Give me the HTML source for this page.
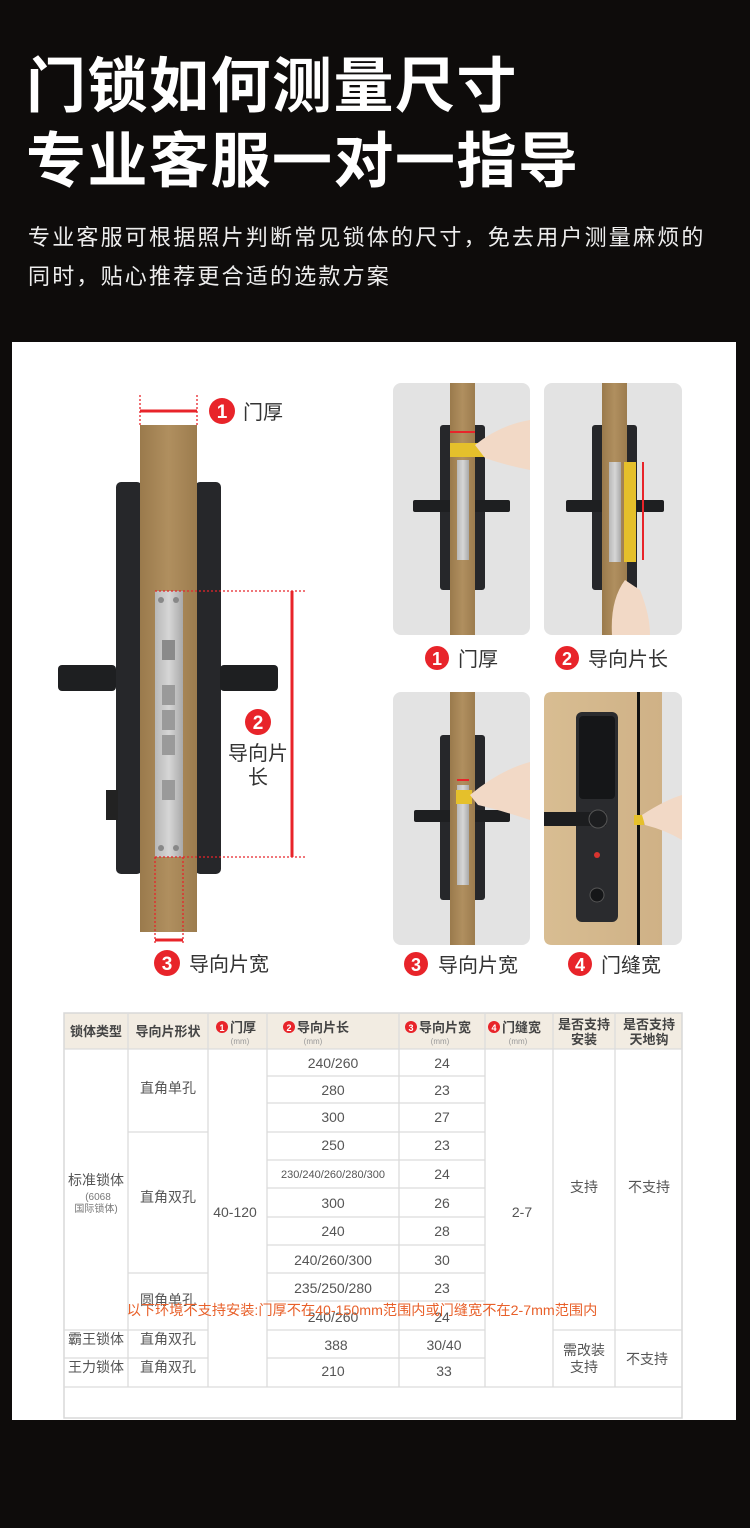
<!DOCTYPE html>
<html><head><meta charset="utf-8">
<style>
html,body{margin:0;padding:0;background:#0e0c0b;}
svg{display:block}
text{font-family:"Liberation Sans","Noto Sans CJK SC",sans-serif;}
</style></head>
<body>
<svg width="750" height="1528" viewBox="0 0 750 1528" xmlns="http://www.w3.org/2000/svg">
<defs>
<linearGradient id="wood" x1="0" x2="1" y1="0" y2="0">
<stop offset="0" stop-color="#9a7a4c"/><stop offset="0.5" stop-color="#b08f5f"/><stop offset="1" stop-color="#9c7c4e"/>
</linearGradient>
<linearGradient id="steel" x1="0" x2="1"><stop offset="0" stop-color="#b8b8b8"/><stop offset="0.5" stop-color="#d6d6d6"/><stop offset="1" stop-color="#a9a9a9"/></linearGradient>
<linearGradient id="lwood" x1="0" x2="1"><stop offset="0" stop-color="#d8bd92"/><stop offset="1" stop-color="#cfb186"/></linearGradient>
</defs>
<rect width="750" height="1528" fill="#0e0c0b"/>
<!-- Title -->
<text x="26" y="107" fill="#fff" font-size="60" font-weight="bold" letter-spacing="1.5">门锁如何测量尺寸</text>
<text x="26" y="182" fill="#fff" font-size="60" font-weight="bold" letter-spacing="1.5">专业客服一对一指导</text>
<text x="28" y="245" fill="#eee" font-size="22" letter-spacing="2.2">专业客服可根据照片判断常见锁体的尺寸，免去用户测量麻烦的</text>
<text x="28" y="284" fill="#eee" font-size="22" letter-spacing="2.2">同时，贴心推荐更合适的选款方案</text>

<!-- White panel -->
<rect x="12" y="342" width="724" height="1078" fill="#fff"/>

<!-- Main lock -->
<rect x="116" y="482" width="26" height="392" rx="5" fill="#26272a"/>
<rect x="195" y="482" width="26" height="392" rx="5" fill="#26272a"/>
<rect x="106" y="790" width="12" height="30" fill="#222"/>
<rect x="58" y="665" width="58" height="26" rx="4" fill="#1e1f21"/>
<rect x="220" y="665" width="58" height="26" rx="4" fill="#1e1f21"/>
<rect x="140" y="425" width="57" height="507" fill="url(#wood)"/>
<rect x="155" y="591" width="28" height="266" fill="url(#steel)"/>
<rect x="162" y="640" width="13" height="20" fill="#8a8a8a"/>
<rect x="162" y="685" width="13" height="20" fill="#9a9a9a"/>
<rect x="162" y="710" width="13" height="20" fill="#9a9a9a"/>
<rect x="162" y="735" width="13" height="20" fill="#9a9a9a"/>
<rect x="162" y="780" width="13" height="20" fill="#9a9a9a"/>
<circle cx="161" cy="600" r="3" fill="#888"/><circle cx="176" cy="600" r="3" fill="#888"/>
<circle cx="161" cy="848" r="3" fill="#888"/><circle cx="176" cy="848" r="3" fill="#888"/>
<g stroke="#e8242a" stroke-width="1.3" stroke-dasharray="2,2" fill="none">
<line x1="140" y1="395" x2="140" y2="425"/><line x1="197" y1="395" x2="197" y2="425"/>
<line x1="155" y1="591" x2="307" y2="591"/><line x1="155" y1="857" x2="307" y2="857"/>
<line x1="155" y1="857" x2="155" y2="945"/><line x1="183" y1="857" x2="183" y2="945"/>
</g>
<g stroke="#e8242a" stroke-width="3">
<line x1="140" y1="411" x2="197" y2="411"/>
<line x1="292" y1="591" x2="292" y2="857"/>
<line x1="155" y1="940" x2="183" y2="940"/>
</g>
<circle cx="222" cy="411" r="13" fill="#e8242a"/><text x="222" y="418" fill="#fff" font-size="19" font-weight="bold" text-anchor="middle">1</text>
<text x="243" y="419" fill="#333" font-size="20">门厚</text>
<circle cx="258" cy="722" r="13" fill="#e8242a"/><text x="258" y="729" fill="#fff" font-size="19" font-weight="bold" text-anchor="middle">2</text>
<text x="258" y="760" fill="#333" font-size="20" text-anchor="middle">导向片</text>
<text x="258" y="784" fill="#333" font-size="20" text-anchor="middle">长</text>
<circle cx="167" cy="963" r="13" fill="#e8242a"/><text x="167" y="970" fill="#fff" font-size="19" font-weight="bold" text-anchor="middle">3</text>
<text x="189" y="971" fill="#333" font-size="20">导向片宽</text>

<!-- Thumb 1 -->
<rect x="393" y="383" width="137" height="252" rx="8" fill="#e3e3e3"/>
<rect x="440" y="425" width="45" height="165" rx="3" fill="#26272a"/>
<rect x="413" y="500" width="97" height="12" rx="2" fill="#1e1f21"/>
<rect x="450" y="383" width="25" height="252" fill="url(#wood)"/>
<rect x="457" y="460" width="12" height="100" fill="url(#steel)"/>
<rect x="450" y="443" width="35" height="14" fill="#e5c02b"/>
<line x1="450" y1="432" x2="475" y2="432" stroke="#e8242a" stroke-width="2"/>
<path d="M475 445 Q500 425 530 420 L530 470 Q505 465 485 458 Z" fill="#f2d9c6"/>
<circle cx="437" cy="658" r="12" fill="#e8242a"/><text x="437" y="665" fill="#fff" font-size="18" font-weight="bold" text-anchor="middle">1</text>
<text x="458" y="666" fill="#333" font-size="20">门厚</text>

<!-- Thumb 2 -->
<rect x="544" y="383" width="138" height="252" rx="8" fill="#e3e3e3"/>
<rect x="592" y="425" width="45" height="165" rx="3" fill="#26272a"/>
<rect x="566" y="500" width="98" height="12" rx="2" fill="#1e1f21"/>
<rect x="602" y="383" width="25" height="252" fill="url(#wood)"/>
<rect x="609" y="462" width="12" height="100" fill="url(#steel)"/>
<rect x="624" y="462" width="12" height="100" fill="#e5c02b"/>
<line x1="643" y1="462" x2="643" y2="560" stroke="#e8242a" stroke-width="2"/>
<path d="M612 635 Q610 600 625 580 L640 590 Q650 615 650 635 Z" fill="#f2d9c6"/>
<circle cx="567" cy="658" r="12" fill="#e8242a"/><text x="567" y="665" fill="#fff" font-size="18" font-weight="bold" text-anchor="middle">2</text>
<text x="588" y="666" fill="#333" font-size="20">导向片长</text>

<!-- Thumb 3 -->
<rect x="393" y="692" width="137" height="253" rx="8" fill="#e3e3e3"/>
<rect x="440" y="735" width="45" height="165" rx="3" fill="#26272a"/>
<rect x="414" y="810" width="96" height="12" rx="2" fill="#1e1f21"/>
<rect x="450" y="692" width="25" height="253" fill="url(#wood)"/>
<rect x="457" y="785" width="12" height="100" fill="url(#steel)"/>
<rect x="456" y="790" width="16" height="14" fill="#e5c02b"/>
<line x1="457" y1="780" x2="469" y2="780" stroke="#e8242a" stroke-width="2"/>
<path d="M470 795 Q500 770 530 762 L530 820 Q500 810 478 805 Z" fill="#f2d9c6"/>
<circle cx="416" cy="964" r="12" fill="#e8242a"/><text x="416" y="971" fill="#fff" font-size="18" font-weight="bold" text-anchor="middle">3</text>
<text x="438" y="972" fill="#333" font-size="20">导向片宽</text>

<!-- Thumb 4 -->
<rect x="544" y="692" width="138" height="253" rx="8" fill="#e3e3e3"/>
<path d="M552 692 H662 V945 H552 Q544 945 544 937 V700 Q544 692 552 692 Z" fill="url(#lwood)"/>
<rect x="637" y="692" width="3" height="253" fill="#111"/>
<rect x="576" y="712" width="42" height="210" rx="6" fill="#2a2b2e"/>
<rect x="579" y="716" width="36" height="83" rx="4" fill="#151618"/>
<rect x="544" y="812" width="62" height="14" fill="#1c1d1f"/>
<circle cx="598" cy="819" r="9" fill="#1c1d1f" stroke="#555"/>
<circle cx="597" cy="855" r="3" fill="#d8342f"/>
<circle cx="597" cy="895" r="7" fill="#151618" stroke="#555"/>
<rect x="634" y="815" width="10" height="10" fill="#e5c02b"/>
<path d="M642 815 Q665 800 682 795 L682 840 Q665 830 645 825 Z" fill="#f2d9c6"/>
<circle cx="580" cy="964" r="12" fill="#e8242a"/><text x="580" y="971" fill="#fff" font-size="18" font-weight="bold" text-anchor="middle">4</text>
<text x="601" y="972" fill="#333" font-size="20">门缝宽</text>

<!-- Table -->
<rect x="64" y="1013" width="618" height="36" fill="#f2ece2"/>
<rect x="64" y="1013" width="618" height="405" fill="none" stroke="#d8d8d8" stroke-width="1.5"/>
<g stroke="#dcdcdc" stroke-width="1.3">
<line x1="128" y1="1013" x2="128" y2="1387"/>
<line x1="208" y1="1013" x2="208" y2="1387"/>
<line x1="267" y1="1013" x2="267" y2="1387"/>
<line x1="399" y1="1013" x2="399" y2="1387"/>
<line x1="485" y1="1013" x2="485" y2="1387"/>
<line x1="553" y1="1013" x2="553" y2="1387"/>
<line x1="615" y1="1013" x2="615" y2="1387"/>
<line x1="64" y1="1049" x2="682" y2="1049"/>
<line x1="64" y1="1387" x2="682" y2="1387"/>
<line x1="267" y1="1076" x2="485" y2="1076"/>
<line x1="267" y1="1103" x2="485" y2="1103"/>
<line x1="128" y1="1132" x2="208" y2="1132"/>
<line x1="267" y1="1132" x2="485" y2="1132"/>
<line x1="267" y1="1160" x2="485" y2="1160"/>
<line x1="267" y1="1188" x2="485" y2="1188"/>
<line x1="267" y1="1217" x2="485" y2="1217"/>
<line x1="267" y1="1245" x2="485" y2="1245"/>
<line x1="128" y1="1273" x2="208" y2="1273"/>
<line x1="267" y1="1273" x2="485" y2="1273"/>
<line x1="267" y1="1301" x2="485" y2="1301"/>
<line x1="64" y1="1330" x2="208" y2="1330"/>
<line x1="267" y1="1330" x2="485" y2="1330"/>
<line x1="553" y1="1330" x2="682" y2="1330"/>
<line x1="64" y1="1358" x2="208" y2="1358"/>
<line x1="267" y1="1358" x2="485" y2="1358"/>
</g>
<g fill="#444" font-size="13" text-anchor="middle" font-weight="bold">
<text x="96" y="1036">锁体类型</text>
<text x="168" y="1036">导向片形状</text>
<text x="584" y="1029">是否支持</text><text x="584" y="1044">安装</text>
<text x="649" y="1029">是否支持</text><text x="649" y="1044">天地钩</text>
</g>
<g font-size="13" fill="#444" font-weight="bold">
<circle cx="222" cy="1027" r="6" fill="#e8242a"/><text x="222" y="1031" fill="#fff" font-size="9" text-anchor="middle">1</text><text x="230" y="1032">门厚</text>
<circle cx="289" cy="1027" r="6" fill="#e8242a"/><text x="289" y="1031" fill="#fff" font-size="9" text-anchor="middle">2</text><text x="297" y="1032">导向片长</text>
<circle cx="411" cy="1027" r="6" fill="#e8242a"/><text x="411" y="1031" fill="#fff" font-size="9" text-anchor="middle">3</text><text x="419" y="1032">导向片宽</text>
<circle cx="494" cy="1027" r="6" fill="#e8242a"/><text x="494" y="1031" fill="#fff" font-size="9" text-anchor="middle">4</text><text x="502" y="1032">门缝宽</text>
</g>
<g fill="#999" font-size="8" text-anchor="middle">
<text x="240" y="1044">(mm)</text><text x="313" y="1044">(mm)</text><text x="440" y="1044">(mm)</text><text x="518" y="1044">(mm)</text>
</g>
<g fill="#555" font-size="14" text-anchor="middle">
<text x="96" y="1185">标准锁体</text>
<text x="96" y="1344">霸王锁体</text>
<text x="96" y="1372">王力锁体</text>
<text x="168" y="1093">直角单孔</text>
<text x="168" y="1202">直角双孔</text>
<text x="168" y="1305">圆角单孔</text>
<text x="168" y="1344">直角双孔</text>
<text x="168" y="1372">直角双孔</text>
<text x="235" y="1217">40-120</text>
<text x="522" y="1217">2-7</text>
<text x="584" y="1192">支持</text>
<text x="649" y="1192">不支持</text>
<text x="584" y="1355">需改装</text><text x="584" y="1372">支持</text>
<text x="647" y="1364">不支持</text>
<text x="333" y="1068">240/260</text><text x="442" y="1068">24</text>
<text x="333" y="1095">280</text><text x="442" y="1095">23</text>
<text x="333" y="1122">300</text><text x="442" y="1122">27</text>
<text x="333" y="1150">250</text><text x="442" y="1150">23</text>
<text x="333" y="1178" font-size="11">230/240/260/280/300</text><text x="442" y="1179">24</text>
<text x="333" y="1208">300</text><text x="442" y="1208">26</text>
<text x="333" y="1236">240</text><text x="442" y="1236">28</text>
<text x="333" y="1265">240/260/300</text><text x="442" y="1265">30</text>
<text x="333" y="1293">235/250/280</text><text x="442" y="1293">23</text>
<text x="333" y="1322">240/260</text><text x="442" y="1322">24</text>
<text x="336" y="1350">388</text><text x="444" y="1350">30/40</text>
<text x="333" y="1376">210</text><text x="444" y="1376">33</text>
</g>
<g fill="#777" font-size="10" text-anchor="middle">
<text x="98" y="1200">(6068</text><text x="96" y="1212">国际锁体)</text>
</g>
<text x="362" y="1315" fill="#e8602a" font-size="14.2" text-anchor="middle">以下环境不支持安装:门厚不在40-150mm范围内或门缝宽不在2-7mm范围内</text>
</svg>
</body></html>
